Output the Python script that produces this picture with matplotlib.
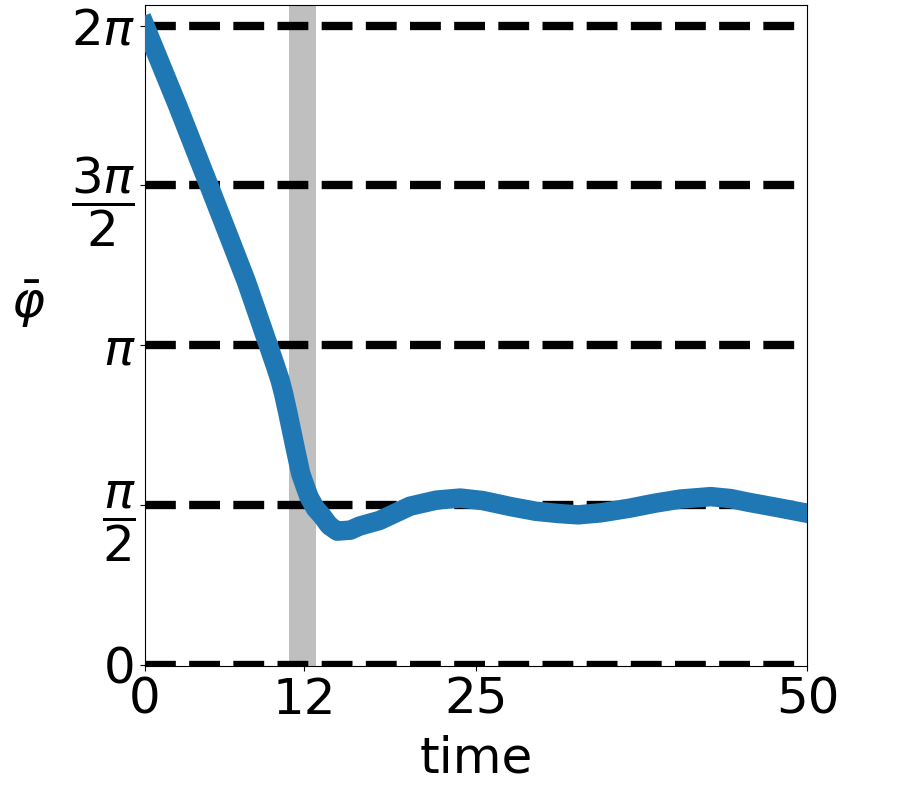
import numpy as np
import matplotlib
matplotlib.use("Agg")
import matplotlib.pyplot as plt

# mean phase vs time
time = [0, 2.45, 4.83, 6.3, 7.64, 8.49, 9.31, 9.8, 10.19, 10.45, 10.79, 11.32,
        11.75, 12.1, 12.38, 12.85, 13.33, 13.9, 14.5, 15.5, 16.2, 17.7, 20.0,
        22.0, 23.8, 25.5, 27.6, 29.5, 31.3, 32.7, 34.4, 36.6, 38.5, 40.4,
        42.7, 44.2, 45.5, 47.8, 50]
phase = [6.28, 5.50, 4.71, 4.22, 3.77, 3.45, 3.14, 2.955, 2.80, 2.67, 2.47, 2.14,
         1.88, 1.75, 1.65, 1.54, 1.47, 1.37, 1.315, 1.325, 1.365, 1.42, 1.56,
         1.62, 1.64, 1.615, 1.556, 1.51, 1.487, 1.475, 1.495, 1.541, 1.59, 1.63,
         1.654, 1.635, 1.60, 1.545, 1.49]

span = (10.9, 12.9)
levels = [0, np.pi / 2, np.pi, 3 * np.pi / 2, 2 * np.pi]
ylabels = ['0', r'$\dfrac{\pi}{2}$', r'$\pi$', r'$\dfrac{3\pi}{2}$', r'$2\pi$']
xticks = [0, 12, 25, 50]

fig = plt.figure(figsize=(9.02, 7.9), dpi=100)
ax = fig.add_axes([0.1608, 0.157, 0.7344, 0.8373])

ax.axvspan(span[0], span[1], color='gray', alpha=0.5, lw=0, zorder=1)
for lv in levels:
    ax.plot([0, 50], [lv, lv], 'k--', lw=6, zorder=2)
ax.plot(time, phase, color='#1f77b4', lw=14, zorder=3,
        solid_joinstyle='round')

ax.set_xlim(0, 50)
ax.set_ylim(-0.01, 6.49)
ax.set_xticks(xticks)
ax.set_yticks(levels)
ax.set_yticklabels(ylabels)
ax.tick_params(labelsize=36)
ax.set_xlabel('time', fontsize=36, labelpad=8)
ax.set_ylabel(r'$\bar{\varphi}$', fontsize=36, rotation=0, ha='center', va='center')
ax.yaxis.set_label_coords(-0.177, 0.546)

fig.savefig('out.png', dpi=100)
